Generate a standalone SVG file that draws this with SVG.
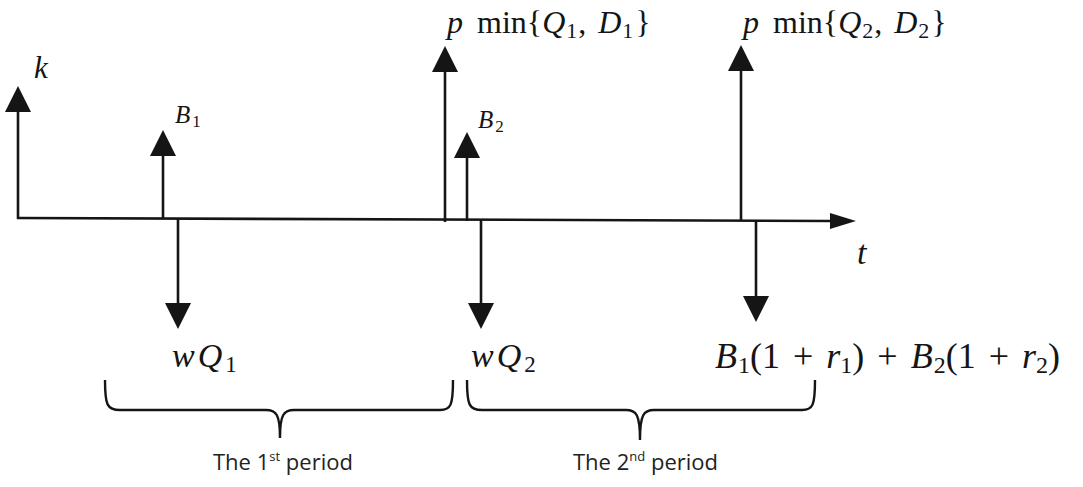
<svg xmlns="http://www.w3.org/2000/svg" width="1083" height="487" viewBox="0 0 1083 487">
<style>
.ln{stroke:#151515;stroke-width:2.6;fill:none}
.br{stroke:#151515;stroke-width:2.4;fill:none}
.m{font-family:"Liberation Serif","DejaVu Serif",serif;fill:#151515}
.i{font-style:italic}
.s{font-family:"Open Sans","Liberation Sans",sans-serif;fill:#222;font-size:22px}
</style>
<defs>
<marker id="ah" viewBox="0 0 26 26" refX="0" refY="13" markerWidth="26" markerHeight="26" markerUnits="userSpaceOnUse" orient="auto">
<path d="M0,0 L26,13 L0,26 z" fill="#151515"/>
</marker>
<marker id="at" viewBox="0 0 26 16" refX="0" refY="8" markerWidth="26" markerHeight="16" markerUnits="userSpaceOnUse" orient="auto">
<path d="M0,0 L26,8 L0,16 z" fill="#151515"/>
</marker>
</defs>
<rect width="1083" height="487" fill="#fff"/>
<g id="connectors">
<line class="ln" x1="18" y1="219" x2="18" y2="112" marker-end="url(#ah)"/>
<line class="ln" x1="17" y1="218" x2="830" y2="221" marker-end="url(#at)"/>
<line class="ln" x1="163" y1="219" x2="163" y2="156" marker-end="url(#ah)"/>
<line class="ln" x1="178" y1="219" x2="178" y2="303" marker-end="url(#ah)"/>
<line class="ln" x1="445" y1="222" x2="445" y2="72" marker-end="url(#ah)"/>
<line class="ln" x1="467" y1="221" x2="467" y2="158" marker-end="url(#ah)"/>
<line class="ln" x1="481" y1="220" x2="481" y2="303" marker-end="url(#ah)"/>
<line class="ln" x1="741" y1="221" x2="741" y2="71" marker-end="url(#ah)"/>
<line class="ln" x1="756" y1="221" x2="756" y2="296" marker-end="url(#ah)"/>
</g>
<g id="label-k"><text class="m i" x="34" y="78" font-size="31">k</text></g>
<g id="label-t"><text class="m i" x="857" y="264" font-size="34">t</text></g>
<g id="label-B1"><text class="m" x="175" y="123" font-size="25"><tspan class="i">B</tspan><tspan font-size="17" dx="2" dy="4">1</tspan></text></g>
<g id="label-B2"><text class="m" x="478" y="128" font-size="25"><tspan class="i">B</tspan><tspan font-size="17" dx="2" dy="4">2</tspan></text></g>
<g id="label-p1"><text class="m" x="447" y="33" font-size="32"><tspan class="i">p</tspan><tspan dx="6"> min{</tspan><tspan class="i">Q</tspan><tspan font-size="22" dx="1" dy="5">1</tspan><tspan dy="-5" dx="1">,</tspan><tspan dx="4"> </tspan><tspan class="i">D</tspan><tspan font-size="22" dx="1" dy="5">1</tspan><tspan dy="-5" dx="2">}</tspan></text></g>
<g id="label-p2"><text class="m" x="743" y="33" font-size="32"><tspan class="i">p</tspan><tspan dx="6"> min{</tspan><tspan class="i">Q</tspan><tspan font-size="22" dx="1" dy="5">2</tspan><tspan dy="-5" dx="1">,</tspan><tspan dx="4"> </tspan><tspan class="i">D</tspan><tspan font-size="22" dx="1" dy="5">2</tspan><tspan dy="-5" dx="2">}</tspan></text></g>
<g id="label-wQ1"><text class="m" x="172" y="367" font-size="34"><tspan class="i">w</tspan><tspan class="i" dx="3">Q</tspan><tspan font-size="23" dx="3" dy="5">1</tspan></text></g>
<g id="label-wQ2"><text class="m" x="471" y="367" font-size="34"><tspan class="i">w</tspan><tspan class="i" dx="3">Q</tspan><tspan font-size="23" dx="3" dy="5">2</tspan></text></g>
<g id="label-repay"><text class="m" x="715" y="368" font-size="36"><tspan class="i">B</tspan><tspan font-size="24" dx="1" dy="5">1</tspan><tspan dy="-5">(1</tspan><tspan dx="4"> + </tspan><tspan class="i" dx="4">r</tspan><tspan font-size="24" dy="5">1</tspan><tspan dy="-5">)</tspan><tspan dx="4"> + </tspan><tspan class="i" dx="4">B</tspan><tspan font-size="24" dx="1" dy="5">2</tspan><tspan dy="-5">(1</tspan><tspan dx="4"> + </tspan><tspan class="i" dx="4">r</tspan><tspan font-size="24" dy="5">2</tspan><tspan dy="-5">)</tspan></text></g>
<g id="period1">
<path class="br" d="M105,380 C105,405 107,410 120,410 L266,410 C276,410 280,414 280,438 C280,414 284,410 294,410 L440,410 C451,410 453,405 453,380"/>
<text class="s" x="213" y="470">The 1<tspan font-size="13" dy="-9">st</tspan><tspan dy="9"> period</tspan></text>
</g>
<g id="period2">
<path class="br" d="M467,380 C467,405 469,410 482,410 L626,410 C636,410 640,414 640,440 C640,414 644,410 654,410 L802,410 C813,410 815,405 815,380"/>
<text class="s" x="573" y="470">The 2<tspan font-size="13" dy="-9">nd</tspan><tspan dy="9"> period</tspan></text>
</g>
</svg>
